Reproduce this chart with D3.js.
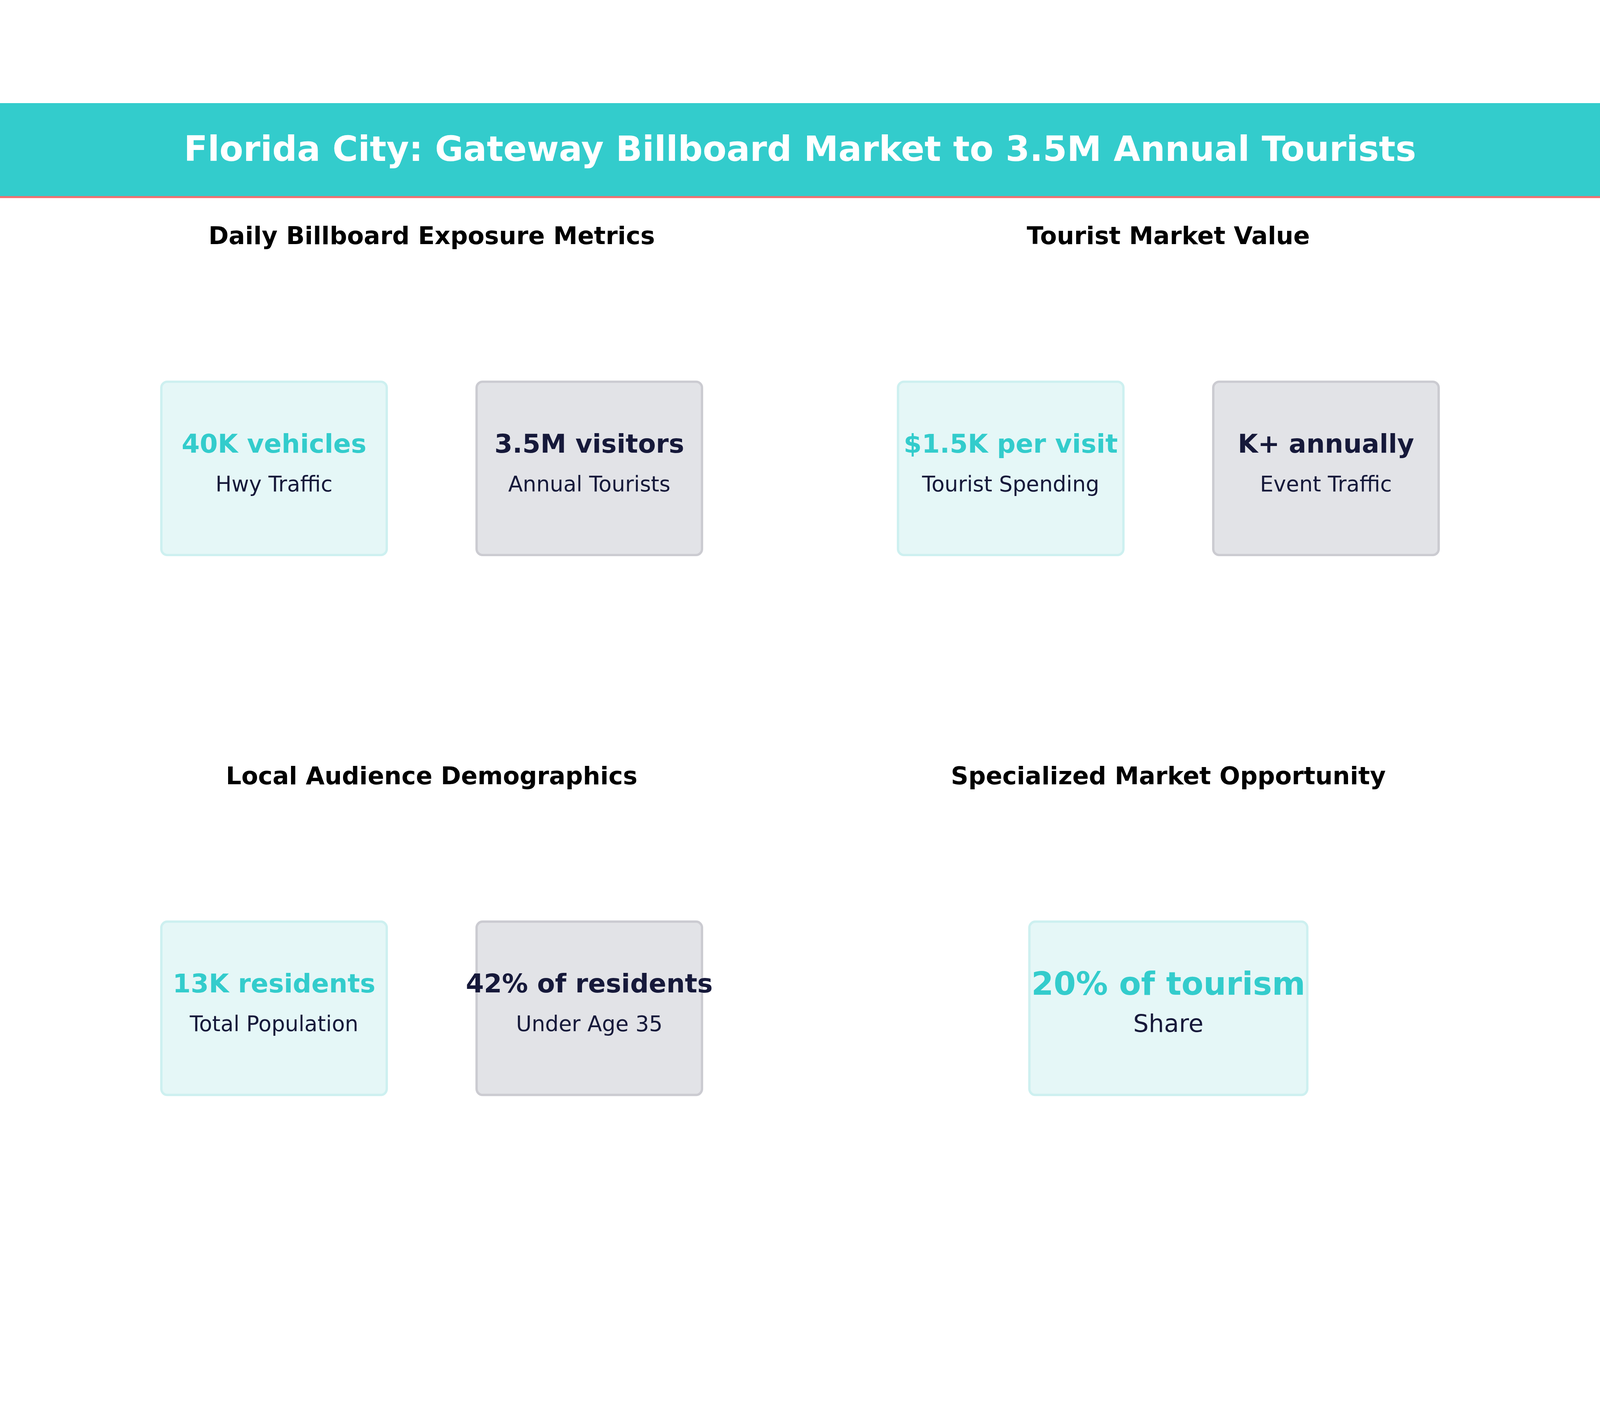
<!DOCTYPE html>
<html>
<head>
<meta charset="utf-8">
<script src="https://cdn.jsdelivr.net/npm/d3@7"></script>
<style>
  html, body { margin: 0; padding: 0; background: #fff; overflow: hidden; }
  svg { display: block; width: 100vw; height: 100vh; }
  text { font-family: "DejaVu Sans", sans-serif; }
</style>
</head>
<body>
<svg id="chart"></svg>
<script>
const W = 4800, H = 3600;

const title = "Florida City: Gateway Billboard Market to 3.5M Annual Tourists";
const panelTitles = ["Daily Billboard Exposure Metrics", "Tourist Market Value",
                     "Local Audience Demographics", "Specialized Market Opportunity"];
const cardValues = [
  ["40K vehicles", "3.5M visitors"],
  ["$1.5K per visit", "K+ annually"],
  ["13K residents", "42% of residents"],
  ["20% of tourism"]
];
const cardLabels = [
  ["Hwy Traffic", "Annual Tourists"],
  ["Tourist Spending", "Event Traffic"],
  ["Total Population", "Under Age 35"],
  ["Share"]
];

const teal = "#33cccc", dark = "#16193a";

const svg = d3.select("#chart")
  .attr("viewBox", `0 0 ${W} ${H}`)
  .attr("preserveAspectRatio", "xMidYMid meet");

// header
svg.append("rect").attr("width", W).attr("height", 282).attr("fill", teal);
svg.append("rect").attr("y", 279).attr("width", W).attr("height", 6).attr("fill", "#f07070");
svg.append("text").attr("x", W / 2).attr("y", 138)
  .attr("text-anchor", "middle").attr("dominant-baseline", "central")
  .attr("font-size", 104).attr("font-weight", "bold").attr("fill", "#fff")
  .text(title);

// panel grid
const colX = d3.scaleOrdinal().domain([0, 1]).range([1295, 3505]);
const rowY = d3.scaleOrdinal().domain([0, 1]).range([0, 1620]);

panelTitles.forEach((t, i) => {
  const cx = colX(i % 2), oy = rowY(Math.floor(i / 2));
  const g = svg.append("g").attr("transform", `translate(0,${oy})`);
  g.append("text").attr("x", cx).attr("y", 398)
    .attr("text-anchor", "middle").attr("dominant-baseline", "central")
    .attr("font-size", 73).attr("font-weight", "bold").attr("fill", "#000")
    .text(t);

  const vals = cardValues[i], labs = cardLabels[i];
  const single = vals.length === 1;
  const x = d3.scaleBand().domain(d3.range(vals.length))
    .range(single ? [cx - 583, cx + 583] : [cx - 811, cx + 811])
    .paddingInner(0.285);
  const boxTop = 836, boxH = 520;

  vals.forEach((v, j) => {
    const x0 = x(j), bw = x.bandwidth(), mid = x0 + bw / 2;
    const isTeal = j === 0;
    g.append("rect").attr("x", x0).attr("y", boxTop).attr("width", bw).attr("height", boxH)
      .attr("rx", 18)
      .attr("fill", isTeal ? "#e5f7f7" : "#e2e3e7")
      .attr("stroke", isTeal ? "#cdf0f0" : "#cbcbd1").attr("stroke-width", 7);
    g.append("text").attr("x", mid).attr("y", 1022)
      .attr("text-anchor", "middle").attr("dominant-baseline", "central")
      .attr("font-size", single ? 96 : 78).attr("font-weight", "bold")
      .attr("fill", isTeal ? teal : dark)
      .text(v);
    g.append("text").attr("x", mid).attr("y", 1142)
      .attr("text-anchor", "middle").attr("dominant-baseline", "central")
      .attr("font-size", single ? 73 : 64).attr("fill", dark)
      .text(labs[j]);
  });
});
</script>
</body>
</html>
